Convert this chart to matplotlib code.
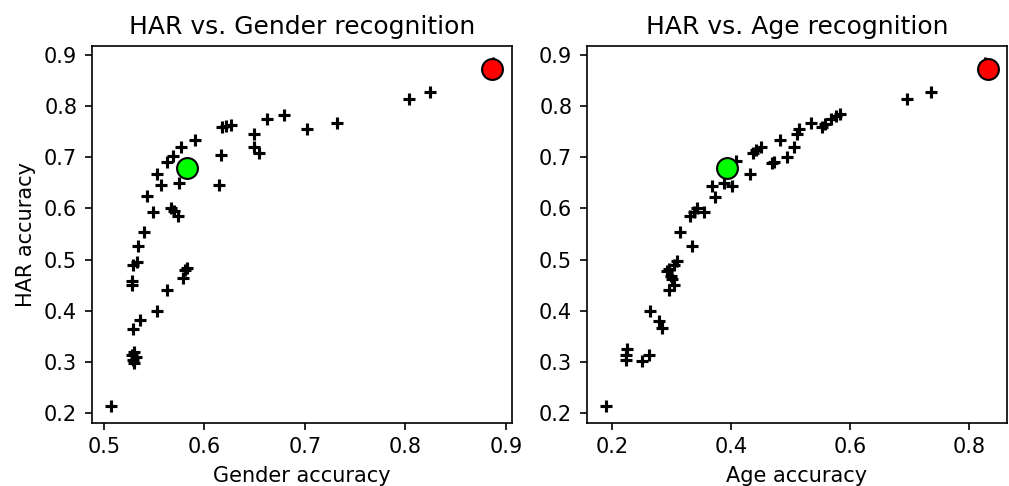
import matplotlib
matplotlib.use("Agg")
import matplotlib.pyplot as plt

# gender plot (x = gender accuracy, y = HAR accuracy)
gender_acc = [0.887, 0.824, 0.804, 0.679, 0.662, 0.732, 0.702, 0.626, 0.621, 0.618,
              0.649, 0.591, 0.649, 0.577, 0.654, 0.617, 0.569, 0.563, 0.553, 0.575,
              0.557, 0.615, 0.543, 0.567, 0.570, 0.549, 0.574, 0.540, 0.534, 0.533,
              0.529, 0.583, 0.581, 0.579, 0.528, 0.528, 0.563, 0.553, 0.536, 0.529,
              0.530, 0.528, 0.532, 0.529, 0.530, 0.507]
har_gender = [0.884, 0.828, 0.814, 0.782, 0.775, 0.767, 0.755, 0.763, 0.761, 0.760,
              0.745, 0.733, 0.721, 0.720, 0.709, 0.704, 0.703, 0.691, 0.668, 0.650,
              0.645, 0.645, 0.624, 0.601, 0.595, 0.593, 0.585, 0.554, 0.527, 0.495,
              0.490, 0.484, 0.479, 0.464, 0.458, 0.451, 0.441, 0.399, 0.381, 0.365,
              0.320, 0.314, 0.310, 0.304, 0.298, 0.214]

# age plot (x = age accuracy, y = HAR accuracy)
age_acc = [0.827, 0.737, 0.696, 0.584, 0.576, 0.568, 0.559, 0.553, 0.534, 0.514,
           0.511, 0.506, 0.450, 0.4415, 0.4375, 0.482, 0.494, 0.408, 0.472, 0.469,
           0.433, 0.388, 0.369, 0.402, 0.373, 0.343, 0.338, 0.355, 0.332, 0.315,
           0.335, 0.310, 0.304, 0.296, 0.293, 0.299, 0.301, 0.304, 0.296, 0.264,
           0.279, 0.285, 0.226, 0.223, 0.262, 0.223, 0.251, 0.190]
har_age = [0.884, 0.828, 0.814, 0.784, 0.780, 0.775, 0.765, 0.760, 0.767, 0.756,
           0.745, 0.721, 0.721, 0.714, 0.709, 0.734, 0.701, 0.693, 0.691, 0.688,
           0.667, 0.650, 0.644, 0.644, 0.623, 0.601, 0.593, 0.593, 0.585, 0.554,
           0.527, 0.497, 0.490, 0.482, 0.477, 0.467, 0.461, 0.451, 0.441, 0.399,
           0.379, 0.366, 0.324, 0.314, 0.314, 0.304, 0.301, 0.214]

# highlighted models: [gender, age, har]
green_pt = [0.583, 0.394, 0.680]
red_pt = [0.886, 0.832, 0.873]

DPI = 150
fig, (ax1, ax2) = plt.subplots(1, 2, figsize=(1009/DPI, 486/DPI), dpi=DPI)
fig.subplots_adjust(left=0.091, right=0.998, bottom=0.13, top=0.905, wspace=0.178)

ax1.scatter(gender_acc, har_gender, marker='+', color='black')
ax1.scatter([green_pt[0]], [green_pt[2]], s=100, color='lime', edgecolors='black', zorder=3)
ax1.scatter([red_pt[0]], [red_pt[2]], s=100, color='red', edgecolors='black', zorder=3)
ax1.set_title("HAR vs. Gender recognition")
ax1.set_xlabel("Gender accuracy")
ax1.set_ylabel("HAR accuracy")

ax2.scatter(age_acc, har_age, marker='+', color='black')
ax2.scatter([green_pt[1]], [green_pt[2]], s=100, color='lime', edgecolors='black', zorder=3)
ax2.scatter([red_pt[1]], [red_pt[2]], s=100, color='red', edgecolors='black', zorder=3)
ax2.set_title("HAR vs. Age recognition")
ax2.set_xlabel("Age accuracy")

fig.savefig("out.png", dpi=DPI)
